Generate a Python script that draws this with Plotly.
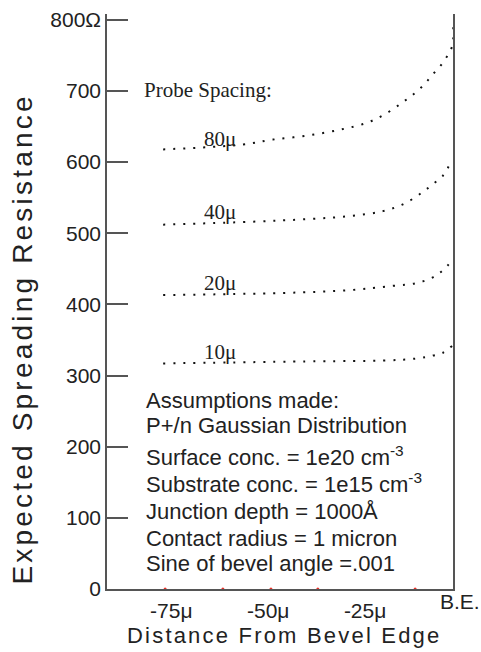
import plotly.graph_objects as go

# ---------------- data ----------------
x_80 = [-77.1, -56.5, -48.8, -40.0, -31.5, -24.5, -19.3, -15.2, -12.1, -9.5, -7.5, -4.9, -2.5, -2.4]
y_80 = [617.7, 624.6, 631.5, 637.1, 645.4, 655.2, 669.1, 684.4, 696.9, 710.5, 723.3, 740.0, 763.7, 800.0]

x_40 = [-77.1, -54.7, -39.2, -28.9, -20.4, -14.7, -10.1, -7.5, -4.9, -2.5]
y_40 = [512.0, 516.0, 520.0, 524.0, 531.0, 542.0, 558.0, 569.0, 581.0, 604.0]

x_20 = [-77.1, -46.2, -28.9, -17.8, -11.6, -7.5, -4.9, -2.5]
y_20 = [413.0, 416.0, 420.0, 426.0, 430.0, 438.0, 448.0, 462.0]

x_10 = [-77.1, -37.4, -20.4, -11.6, -7.5, -4.9, -2.5]
y_10 = [317.0, 320.0, 321.0, 324.0, 328.0, 332.0, 342.0]

curve_labels = ["80\u03bc", "40\u03bc", "20\u03bc", "10\u03bc"]

red_x = [-76.6, -61.7, -49.3, -37.2, -12.1]
red_y = [0, 0, 0, 0, 0]

y_tickvals = [0, 100, 200, 300, 400, 500, 600, 700, 800]
y_ticktext = ["0", "100", "200", "300", "400", "500", "600", "700", "800\u03a9"]

x_tickvals = [-75, -50, -25]
x_ticktext = ["-75\u03bc", "-50\u03bc", "-25\u03bc"]
edge_label = "B.E."

assumptions = [
    "Assumptions made:",
    "P+/n Gaussian Distribution",
    "Surface conc. = 1e20 cm<sup>-3</sup>",
    "Substrate conc. = 1e15 cm<sup>-3</sup>",
    "Junction depth = 1000\u00c5",
    "Contact radius = 1 micron",
    "Sine of bevel angle =.001",
]

# ---------------- layout geometry (pixels) ----------------
W, H = 481, 652
PL, PR, PT, PB = 107, 453, 8, 589
PW, PH = PR - PL, PB - PT


def px(x):
    return (x - PL) / PW


def py(y):
    return (PB - y) / PH


SANS = "Liberation Sans, Arial, sans-serif"
SERIF = "Liberation Serif, Times New Roman, serif"
INK = "#222222"
AXIS = "#555555"

fig = go.Figure()

for xs, ys in [(x_80, y_80), (x_40, y_40), (x_20, y_20), (x_10, y_10)]:
    fig.add_trace(go.Scatter(
        x=xs, y=ys, mode="lines", line=dict(color="#111111", width=2, dash="2px,8px", shape="spline"),
        showlegend=False, hoverinfo="skip"))

fig.add_trace(go.Scatter(x=red_x, y=red_y, mode="markers",
                         marker=dict(color="#e8332a", size=3), cliponaxis=False,
                         showlegend=False, hoverinfo="skip"))

annotations = []
annotations.append(dict(text="Probe Spacing:", x=px(142), y=py(85), xref="paper", yref="paper",
                        xanchor="left", yanchor="middle", showarrow=False,
                        font=dict(family=SERIF, size=21, color=INK)))
for lab, cy in zip(curve_labels, [134.5, 208, 279.5, 350]):
    annotations.append(dict(text=lab, x=px(202), y=py(cy), xref="paper", yref="paper",
                            xanchor="left", yanchor="middle", showarrow=False,
                            font=dict(family=SERIF, size=21, color=INK)))

for line, base in zip(assumptions, [408, 433, 465, 493, 520, 547, 572]):
    annotations.append(dict(text=line, x=px(144), y=py(base + 5.5), xref="paper", yref="paper",
                            xanchor="left", yanchor="bottom", showarrow=False,
                            font=dict(family=SANS, size=22, color=INK)))

annotations.append(dict(text=edge_label, x=px(460), y=py(602), xref="paper", yref="paper",
                        xanchor="center", yanchor="middle", showarrow=False,
                        font=dict(family=SANS, size=21, color=INK)))

annotations.append(dict(text='<span style="letter-spacing:2.2px">Distance From Bevel Edge</span>',
                        x=px(284), y=py(636), xref="paper", yref="paper",
                        xanchor="center", yanchor="middle", showarrow=False,
                        font=dict(family=SANS, size=22, color=INK)))
annotations.append(dict(text='<span style="letter-spacing:3.2px">Expected Spreading Resistance</span>',
                        x=px(23), y=py(337), xref="paper", yref="paper", textangle=-90,
                        xanchor="center", yanchor="middle", showarrow=False,
                        font=dict(family=SANS, size=28, color=INK)))

x0 = (PL - 462) / 3.876
x1 = (PR - 462) / 3.876

fig.update_layout(
    width=W, height=H,
    margin=dict(l=PL, r=W - PR, t=PT, b=H - PB, pad=0),
    paper_bgcolor="white", plot_bgcolor="white",
    showlegend=False,
    annotations=annotations,
    xaxis=dict(range=[x0, x1], showgrid=False, zeroline=False, showline=True,
               linecolor=AXIS, linewidth=1.5, ticks="", tickvals=x_tickvals, ticktext=x_ticktext,
               tickfont=dict(family=SANS, size=21, color=INK), ticklabelstandoff=2),
    yaxis=dict(range=[0, 808], showgrid=False, zeroline=False, showline=True, mirror=True,
               linecolor=AXIS, linewidth=1.5, ticks="inside", ticklen=21, tickwidth=1.5,
               tickcolor=AXIS, tickvals=y_tickvals, ticktext=y_ticktext,
               tickfont=dict(family=SANS, size=21, color=INK)),
)

fig.write_html("out.html", config={"displayModeBar": False},
               post_script="document.body.style.margin='0';document.body.style.overflow='hidden';")
